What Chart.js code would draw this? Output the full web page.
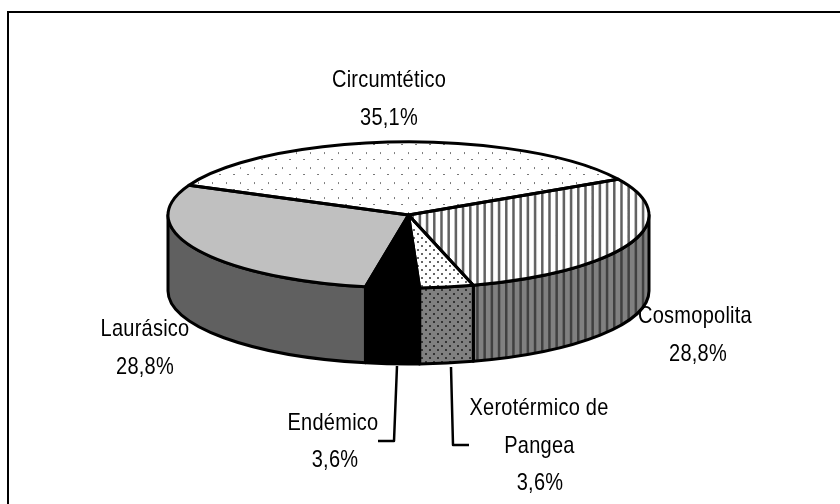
<!DOCTYPE html>
<html>
<head>
<meta charset="utf-8">
<style>html,body{margin:0;padding:0;background:#fff}canvas{display:block}</style>
<script src="https://cdn.jsdelivr.net/npm/chart.js@4"></script>
</head>
<body>
<canvas id="c" width="840" height="504"></canvas>
<script>
const categories = ['Circumtético', 'Cosmopolita', 'Xerotérmico de Pangea', 'Endémico', 'Laurásico'];
const shares = [35.1, 28.8, 3.6, 3.6, 28.8];
const shareLabels = ['35,1%', '28,8%', '3,6%', '3,6%', '28,8%'];

// Projection of the library's flat pie into the tilted disc of the reference
const disc = {cx: 408.5, cy: 215, rx: 240.5, ry: 73, depth: 76};
const R = 252; // pie radius Chart.js derives from the 504px tall canvas
const sx = disc.rx / R, sy = disc.ry / R, ex = 420, ey = 252;
const counter = new DOMMatrix().translate(ex, ey).scale(1 / sx, 1 / sy).translate(-disc.cx, -disc.cy);

function tile(w, h, bg, paint) {
  const t = document.createElement('canvas');
  t.width = w; t.height = h;
  const g = t.getContext('2d');
  g.fillStyle = bg; g.fillRect(0, 0, w, h);
  paint(g);
  return t;
}
function pattern(t, flat) {
  const p = document.createElement('canvas').getContext('2d').createPattern(t, 'repeat');
  if (flat) p.setTransform(counter);
  return p;
}
const stripes = (bg, fg) => tile(36, 4, bg, g => {
  g.fillStyle = fg;
  for (let k = 0; k < 5; k++) g.fillRect(1 + k * 7.2, 0, 2.5, 4);
});
const bigDots = (bg, fg) => tile(8, 8, bg, g => { g.fillStyle = fg; g.fillRect(1, 1, 2, 2); g.fillRect(5, 5, 2, 2); });
const sparse = tile(14, 15, '#ffffff', g => { g.fillStyle = '#777'; g.fillRect(2, 2, 1, 2); g.fillRect(9, 9, 2, 1); });

const topFill = [
  pattern(sparse, true),
  pattern(stripes('#ffffff', '#606060'), true),
  pattern(bigDots('#ffffff', '#666666'), true),
  '#000000',
  '#c0c0c0'
];
const wallFill = [
  '#ffffff',
  pattern(stripes('#808080', '#404040'), false),
  pattern(bigDots('#808080', '#333333'), false),
  '#000000',
  '#606060'
];

const labelSpots = [
  [categories[0], 389, 80], [shareLabels[0], 389, 118],
  [categories[1], 695, 316], [shareLabels[1], 698, 354],
  ['Xerotérmico de', 539, 408], ['Pangea', 539.5, 446], [shareLabels[2], 540, 483],
  [categories[3], 333, 423], [shareLabels[3], 335, 460],
  [categories[4], 145, 329], [shareLabels[4], 145, 367]
];
const leaders = [
  [[397, 366], [394, 441], [378, 441]],
  [[451, 367], [453, 445], [469, 445]]
];

function angles(el) { return [el.startAngle, el.endAngle]; }

const tilted = {
  id: 'tilted',
  beforeDatasetsDraw(chart) {
    const ctx = chart.ctx, arcs = chart.getDatasetMeta(0).data;
    ctx.save();
    // frame (left and top edges are the ones inside the picture)
    ctx.strokeStyle = '#000'; ctx.lineWidth = 2;
    ctx.beginPath(); ctx.moveTo(8, 504); ctx.lineTo(8, 12); ctx.lineTo(840, 12); ctx.stroke();
    // side wall, front half only
    ctx.lineWidth = 3; ctx.lineJoin = 'round';
    arcs.forEach((el, i) => {
      let [a, b] = angles(el);
      const turn = 2 * Math.PI;
      while (b > turn) { a -= turn; b -= turn; }
      const a0 = Math.max(a, 0), a1 = Math.min(b, Math.PI);
      if (a1 <= a0) return;
      ctx.beginPath();
      ctx.ellipse(disc.cx, disc.cy, disc.rx, disc.ry, 0, a0, a1);
      ctx.ellipse(disc.cx, disc.cy + disc.depth, disc.rx, disc.ry, 0, a1, a0, true);
      ctx.closePath();
      ctx.fillStyle = wallFill[i];
      ctx.fill(); ctx.stroke();
    });
    ctx.restore();
    ctx.save();
    ctx.translate(disc.cx, disc.cy);
    ctx.scale(sx, sy);
    ctx.translate(-ex, -ey);
  },
  afterDatasetsDraw(chart) {
    const ctx = chart.ctx, arcs = chart.getDatasetMeta(0).data;
    ctx.restore();
    ctx.save();
    ctx.strokeStyle = '#000'; ctx.lineWidth = 3; ctx.lineJoin = 'round';
    arcs.forEach(el => {
      const [a, b] = angles(el);
      ctx.beginPath();
      ctx.moveTo(disc.cx, disc.cy);
      ctx.ellipse(disc.cx, disc.cy, disc.rx, disc.ry, 0, a, b);
      ctx.closePath();
      ctx.stroke();
    });
    ctx.lineWidth = 2.5;
    leaders.forEach(pts => {
      ctx.beginPath();
      pts.forEach((p, i) => i ? ctx.lineTo(p[0], p[1]) : ctx.moveTo(p[0], p[1]));
      ctx.stroke();
    });
    ctx.fillStyle = '#000';
    ctx.font = '20px "Liberation Sans", Arial, sans-serif';
    ctx.letterSpacing = '0.25px';
    ctx.textAlign = 'center'; ctx.textBaseline = 'middle';
    labelSpots.forEach(([text, x, y]) => {
      ctx.save();
      ctx.translate(x, y);
      ctx.scale(1, 1.18);
      ctx.fillText(text, 0, 0);
      ctx.restore();
    });
    ctx.restore();
  }
};

new Chart(document.getElementById('c'), {
  type: 'pie',
  data: {
    labels: categories,
    datasets: [{data: shares, backgroundColor: topFill, borderWidth: 0}]
  },
  options: {
    responsive: false,
    animation: false,
    rotation: -65.9,
    layout: {padding: 0},
    plugins: {legend: {display: false}, tooltip: {enabled: false}}
  },
  plugins: [tilted]
});
</script>
</body>
</html>
